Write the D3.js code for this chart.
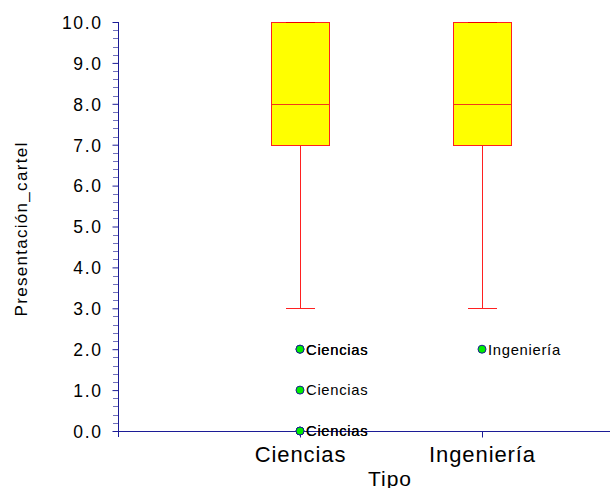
<!DOCTYPE html>
<html><head><meta charset="utf-8">
<script src="https://cdn.jsdelivr.net/npm/d3@7"></script>
<style>
body{margin:0;background:#fff;}
svg{display:block;font-family:"Liberation Sans",Arial,sans-serif;}
</style></head><body>
<svg id="c" width="610" height="488"></svg>
<script>
const categories = ["Ciencias", "Ingeniería"];
const q1 = [7.0, 7.0];
const median = [8.0, 8.0];
const q3 = [10.0, 10.0];
const whiskerLow = [3.0, 3.0];
const whiskerHigh = [10.0, 10.0];
const outliersCiencias = [2.0, 2.0, 1.0, 0.0, 0.0];
const outliersIngenieria = [2.0];
const yTicks = [0, 1, 2, 3, 4, 5, 6, 7, 8, 9, 10];
const yLabel = "Presentación_cartel";
const xLabel = "Tipo";

const outliers = [outliersCiencias, outliersIngenieria];
const svg = d3.select("#c");
const y = d3.scaleLinear().domain([0, 10]).range([431, 22]);
const x = d3.scalePoint().domain(["", ...categories, " "]).range([118, 664]);
const axisColor = "#1c1c96";

// minor ticks
const minor = d3.range(0, 10.0001, 0.2).filter(v => Math.abs(v - Math.round(v)) > 1e-6);
svg.append("g").selectAll("line").data(minor).join("line")
  .attr("x1", 113).attr("x2", 118)
  .attr("y1", d => Math.round(y(d)) + 0.5).attr("y2", d => Math.round(y(d)) + 0.5)
  .attr("stroke", "#7070bc").attr("stroke-width", 1);

// y axis
const yAxis = d3.axisLeft(y).tickValues(yTicks).tickFormat(d3.format(".1f")).tickSize(6).tickPadding(10);
const gy = svg.append("g").attr("transform", "translate(118.5,0)").call(yAxis);
gy.select(".domain").remove();
gy.selectAll(".tick line").attr("stroke", axisColor);
gy.selectAll(".tick text").attr("fill", "#000").style("font-size", "17.5px")
  .style("letter-spacing", "1.6px").attr("dy", "0.36em");
svg.append("line").attr("x1", 118.5).attr("x2", 118.5).attr("y1", y(10)).attr("y2", y(0) + 6)
  .attr("stroke", axisColor);

// x axis
const xAxis = d3.axisBottom(x).tickValues(categories).tickSize(6).tickPadding(9);
const gx = svg.append("g").attr("transform", `translate(0,${y(0) + 0.5})`).call(xAxis);
gx.select(".domain").remove();
gx.selectAll(".tick line").attr("stroke", axisColor);
gx.selectAll(".tick text").attr("fill", "#000").style("font-size", "22px")
  .style("letter-spacing", "0.9px").attr("dy", "0.71em");
svg.append("line").attr("x1", 118).attr("x2", 610).attr("y1", y(0) + 0.5).attr("y2", y(0) + 0.5)
  .attr("stroke", axisColor);

// axis titles
svg.append("text").attr("x", 390).attr("y", 486).attr("text-anchor", "middle")
  .style("font-size", "21px").style("letter-spacing", "1px").text(xLabel);
svg.append("text").attr("transform", "translate(27,229) rotate(-90)").attr("text-anchor", "middle")
  .style("font-size", "17px").style("letter-spacing", "1.3px").text(yLabel);

// boxes
const boxW = 58;
const g = svg.append("g");
categories.forEach((c, i) => {
  const cx = Math.round(x(c)) + 0.5;
  g.append("line").attr("x1", cx).attr("x2", cx).attr("y1", y(whiskerLow[i])).attr("y2", y(q1[i]))
    .attr("stroke", "#ff2020");
  g.append("line").attr("x1", cx).attr("x2", cx).attr("y1", y(q3[i])).attr("y2", y(whiskerHigh[i]))
    .attr("stroke", "#ff2020");
  g.append("line").attr("x1", cx - boxW / 4).attr("x2", cx + boxW / 4)
    .attr("y1", Math.round(y(whiskerLow[i])) + 0.5).attr("y2", Math.round(y(whiskerLow[i])) + 0.5)
    .attr("stroke", "#ff2020");
  g.append("rect").attr("x", cx - boxW / 2).attr("width", boxW)
    .attr("y", Math.round(y(q3[i])) + 0.5).attr("height", Math.round(y(q1[i])) - Math.round(y(q3[i])))
    .attr("fill", "#ffff00").attr("stroke", "#ff2020");
  g.append("line").attr("x1", cx - boxW / 2).attr("x2", cx + boxW / 2)
    .attr("y1", Math.round(y(median[i])) + 0.5).attr("y2", Math.round(y(median[i])) + 0.5)
    .attr("stroke", "#f03a1a");
  g.append("line").attr("x1", cx - boxW / 4).attr("x2", cx + boxW / 4)
    .attr("y1", Math.round(y(whiskerHigh[i])) + 0.5).attr("y2", Math.round(y(whiskerHigh[i])) + 0.5)
    .attr("stroke", "#ee0000");
  outliers[i].forEach(v => {
    g.append("circle").attr("cx", x(c)).attr("cy", y(v)).attr("r", 4)
      .attr("fill", "#00ee00").attr("stroke", "#1c1c96").attr("stroke-width", 1);
    g.append("text").attr("x", x(c) + 6).attr("y", y(v) + 5.3)
      .style("font-size", "14.8px").style("letter-spacing", "0.7px").attr("fill", "#000").text(c);
  });
});
</script></body></html>
